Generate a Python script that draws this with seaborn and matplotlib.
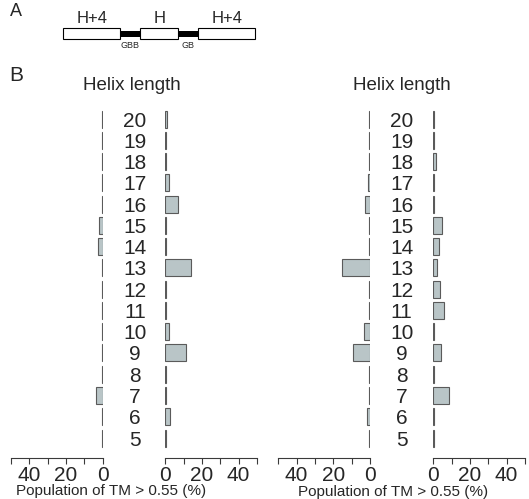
import numpy as np
import pandas as pd
import matplotlib.pyplot as plt
import seaborn as sns

# helix lengths, top to bottom
lengths = [20, 19, 18, 17, 16, 15, 14, 13, 12, 11, 10, 9, 8, 7, 6, 5]
# population of TM > 0.55 (%) per helix length
p1_left = [0.3, 0.3, 0.5, 0.5, 0.3, 1.8, 2.7, 0.5, 0.3, 0.3, 0.5, 0.5, 0.5, 3.8, 0.3, 0.3]
p1_right = [0.9, 0.3, 0.3, 2.0, 7.1, 0.3, 0.5, 13.8, 0.5, 0.5, 2.0, 11.1, 0.5, 0.3, 2.4, 0.3]
p2_left = [0.3, 0.3, 0.3, 1.1, 2.7, 0.3, 0.6, 15.0, 0.6, 0.6, 3.1, 9.1, 0.3, 0.3, 1.5, 0.6]
p2_right = [0.3, 0.3, 1.3, 0.3, 0.3, 4.7, 3.1, 1.8, 3.8, 6.0, 0.3, 4.0, 0.6, 8.6, 0.3, 0.3]

# schematic in panel A
seg_names = ['H+4', 'GBB', 'H', 'GB', 'H+4']
seg_widths = [56.7, 20, 38.3, 20, 56.7]
seg_linker = [False, True, False, True, False]

sns.set_style('ticks')
plt.rcParams['font.family'] = ['Liberation Sans', 'DejaVu Sans']

W, H = 529, 499
fig = plt.figure(figsize=(W / 100, H / 100), dpi=100)


def px_axes(x0, y0, x1, y1):
    return fig.add_axes([x0 / W, 1 - y1 / H, (x1 - x0) / W, (y1 - y0) / H])


bar_face = '#b9c5c7'
bar_edge = '#5a5a5a'
line_col = '#3a3a3a'
labels = [str(v) for v in lengths]
ytop, ybot = 108.4, 458


def side(x0, x1, values, flip, show_labels=False, pad=0):
    ax = px_axes(x0, ytop, x1, ybot)
    df = pd.DataFrame({'length': labels, 'pop': values})
    sns.barplot(data=df, x='pop', y='length', order=labels, orient='h',
                color=bar_face, saturation=1, edgecolor=bar_edge,
                linewidth=0.8, width=0.8, ax=ax)
    ax.set_ylim(15.94, -0.5)
    ax.set_xlim((50, 0) if flip else (0, 50))
    ax.set_xticks([0, 10, 20, 30, 40, 50])
    ax.set_xticklabels(['0', '', '20', '', '40', ''], fontsize=15)
    ax.tick_params(axis='x', direction='out', length=4.5, width=0.8,
                   color=line_col, pad=1)
    for s in ['top', 'left', 'right']:
        ax.spines[s].set_visible(False)
    ax.spines['bottom'].set_color(line_col)
    ax.spines['bottom'].set_linewidth(0.8)
    ax.set_xlabel('')
    ax.set_ylabel('')
    ax.patch.set_alpha(0)
    if show_labels:
        ax.tick_params(axis='y', length=0, pad=pad, labelsize=15)
        for t in ax.get_yticklabels():
            t.set_horizontalalignment('center')
    else:
        ax.tick_params(axis='y', left=False, labelleft=False)
    return ax


side(11, 102.7, p1_left, True)
side(165.3, 257, p1_right, False, True, 21.8)
side(278.3, 370, p2_left, True)
side(433.3, 525, p2_right, False, True, 22.8)

for cx in [132, 402]:
    fig.text(cx / W, 1 - 85 / H, 'Helix length', ha='center', va='center', fontsize=13.5)
for cx, cy in [(111.5, 491), (393, 492)]:
    fig.text(cx / W, 1 - cy / H, 'Population of TM > 0.55 (%)', ha='center',
             va='center', fontsize=11)

fig.text(10 / W, 1 - 11 / H, 'A', ha='left', va='center', fontsize=13)
fig.text(9 / W, 1 - 75.5 / H, 'B', ha='left', va='center', fontsize=15)

# panel A schematic
axd = px_axes(63.3, 28, 255, 39.3)
lefts = np.concatenate([[0], np.cumsum(seg_widths)[:-1]])
for name, w, l, linker in zip(seg_names, seg_widths, lefts, seg_linker):
    if linker:
        axd.barh(0.5, w, left=l, height=0.53, color='black', edgecolor='black',
                 linewidth=0, clip_on=False)
        axd.text(l + w / 2, -0.53, name, ha='center', va='center', fontsize=6.5)
    else:
        axd.barh(0.5, w, left=l, height=1, color='white', edgecolor='black',
                 linewidth=0.8, clip_on=False)
        axd.text(l + w / 2, 1.2, name, ha='center', va='bottom', fontsize=12)
axd.set_xlim(0, sum(seg_widths))
axd.set_ylim(0, 1)
axd.axis('off')

fig.savefig('out.png', dpi=100)
